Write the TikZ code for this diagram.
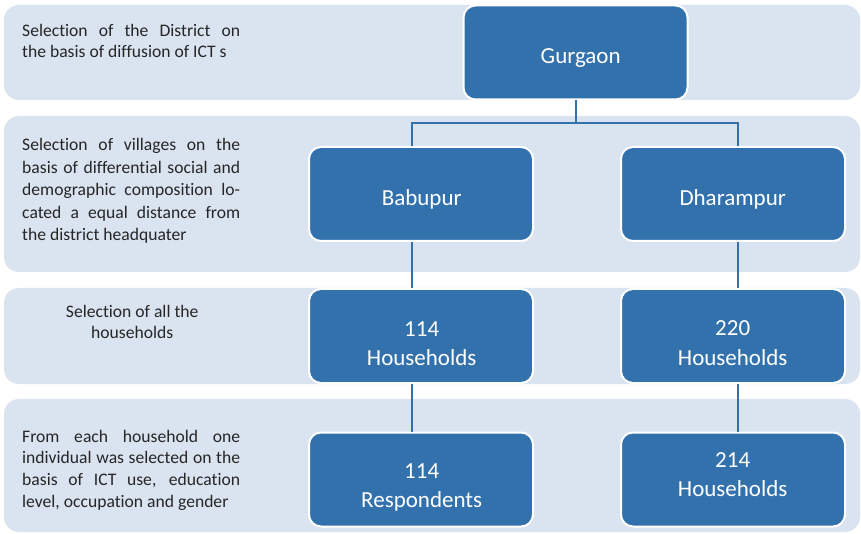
\documentclass[tikz,border=0pt]{standalone}
\usepackage{fontspec}
\setmainfont{Carlito}[Ligatures=NoCommon]
\definecolor{boxblue}{HTML}{3371AD}
\definecolor{bandcol}{HTML}{DAE3F0}
\definecolor{txtcol}{HTML}{262626}
\newcommand{\jline}[1]{\makebox[218pt][s]{#1}}
\newcommand{\boxlines}[2]{\vtop{\hsize=224pt\parindent=0pt\baselineskip=29.5pt\centering #1\par #2\par}}
\begin{document}
\begin{tikzpicture}[x=1pt,y=-1pt,
  band/.style={fill=bandcol,rounded corners=15pt},
  bluebox/.style={rectangle,rounded corners=12pt,fill=boxblue,draw=white,line width=2pt,
    minimum width=224pt,minimum height=94pt,inner sep=0pt},
  boxtext/.style={anchor=base west,inner sep=0pt,text=white,font=\fontsize{23}{29.5}\selectfont},
  sidetext/.style={anchor=base west,inner sep=0pt,text=txtcol,font=\fontsize{17.6}{22}\selectfont},
  conn/.style={draw=boxblue,line width=2pt}]
\useasboundingbox (0,0) rectangle (861,534);
\fill[white] (0,0) rectangle (861,534);
% bands
\path[band] (4,5) rectangle (860,100);
\path[band] (4,116) rectangle (860,272);
\path[band] (4,288) rectangle (860,384);
\path[band] (4,399) rectangle (860,532);
% side texts
\node[sidetext] (t1) at (22,37) {\vtop{\hsize=218pt\parindent=0pt\baselineskip=21pt
  \jline{Selection of the District on}\par
  the basis of diffusion of ICT s}};
\node[sidetext] (t2) at (22,151) {\vtop{\hsize=218pt\parindent=0pt\baselineskip=22.5pt
  \jline{Selection of villages on the}\par
  \jline{basis of differential social and}\par
  \jline{demographic composition lo-}\par
  \jline{cated a equal distance from}\par
  the district headquater}};
\node[sidetext] (t3) at (22,317) {\vtop{\hsize=220pt\parindent=0pt\baselineskip=21.5pt\centering
  Selection of all the\par households}};
\node[sidetext] (t4) at (22,442) {\vtop{\hsize=218pt\parindent=0pt\baselineskip=21.7pt
  \jline{From each household one}\par
  \jline{individual was selected on the}\par
  \jline{basis of ICT use, education}\par
  level, occupation and gender}};
% boxes
\node[bluebox] (gur) at (575.5,52.5) {};
\node[bluebox] (bab) at (421,194) {};
\node[bluebox] (dha) at (733,194) {};
\node[bluebox] (hhl) at (421,336) {};
\node[bluebox] (hhr) at (733,336) {};
\node[bluebox] (rsl) at (421,479.5) {};
\node[bluebox] (rsr) at (733,479.5) {};
% box texts
\node[boxtext] (gurT) at (468.5,63.3) {\boxlines{Gurgaon}{}};
\node[boxtext] (babT) at (309.5,205.5) {\boxlines{Babupur}{}};
\node[boxtext] (dhaT) at (620.5,206) {\boxlines{Dharampur}{}};
\node[boxtext] (hhlT) at (309.5,336) {\boxlines{114}{Households}};
\node[boxtext] (hhrT) at (620.5,335.7) {\boxlines{220}{Households}};
\node[boxtext] (rslT) at (309.5,478.3) {\boxlines{114}{Respondents}};
\node[boxtext] (rsrT) at (620.5,467.3) {\boxlines{214}{Households}};
% connectors
\coordinate (split) at (575.5,123);
\draw[conn] (gur.south) -- (split);
\draw[conn] (split) -| ([xshift=-9pt]bab.north);
\draw[conn] (split) -| ([xshift=5pt]dha.north);
\draw[conn] ([xshift=-9pt]bab.south) -- ([xshift=-9pt]hhl.north);
\draw[conn] ([xshift=5pt]dha.south) -- ([xshift=5pt]hhr.north);
\draw[conn] ([xshift=-9pt]hhl.south) -- ([xshift=-9pt]rsl.north);
\draw[conn] ([xshift=5pt]hhr.south) -- ([xshift=5pt]rsr.north);
\end{tikzpicture}
\end{document}
